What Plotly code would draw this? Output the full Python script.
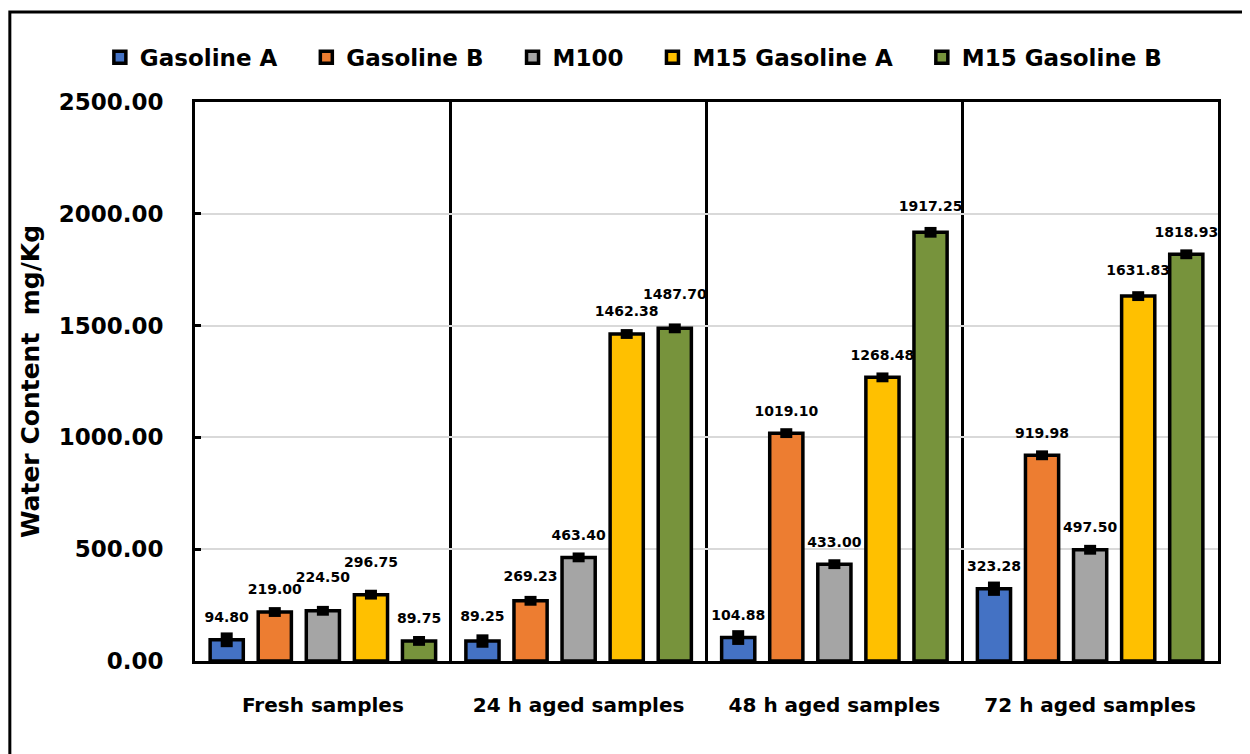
import plotly.graph_objects as go

categories = ["Fresh samples", "24 h aged samples", "48 h aged samples", "72 h aged samples"]
series_names = ["Gasoline A", "Gasoline B", "M100", "M15 Gasoline A", "M15 Gasoline B"]
gasoline_a = [94.80, 89.25, 104.88, 323.28]
gasoline_b = [219.00, 269.23, 1019.10, 919.98]
m100 = [224.50, 463.40, 433.00, 497.50]
m15_a = [296.75, 1462.38, 1268.48, 1631.83]
m15_b = [89.75, 1487.70, 1917.25, 1818.93]
err_a = [33, 30, 33, 32]
err_b = [22, 22, 22, 22]
err_m100 = [22, 22, 22, 22]
err_m15a = [22, 22, 22, 22]
err_m15b = [22, 22, 24, 22]
# extra lift (px) of individual data labels, as placed in the original chart
lift_a = [0, 2, 0, 0]
lift_b = [0, 2, 0, 0]
lift_m100 = [9, 0, 0, 0]
lift_m15a = [8, 0, 0, 3]
lift_m15b = [0, 9, 3, 0]
y_ticks = [0, 500, 1000, 1500, 2000, 2500]

values = [gasoline_a, gasoline_b, m100, m15_a, m15_b]
errors = [err_a, err_b, err_m100, err_m15a, err_m15b]
lifts = [lift_a, lift_b, lift_m100, lift_m15a, lift_m15b]
colors = ["#4472C4", "#ED7D31", "#A5A5A5", "#FFC000", "#77933C"]

FONT = "DejaVu Sans"
BASE_GAP = 21
PAD = "\u00a0\u00a0\u00a0"

fig = go.Figure()
for name, vals, errs, col in zip(series_names, values, errors, colors):
    fig.add_trace(go.Bar(
        name=name + PAD, x=categories, y=vals,
        marker=dict(color=col, line=dict(color="black", width=3.5)),
        error_y=dict(type="data", array=errs, visible=True, color="black",
                     thickness=12, width=0),
    ))
for name, vals, lf in zip(series_names, values, lifts):
    fig.add_trace(go.Scatter(
        x=categories, y=vals,
        mode="markers+text", text=[f"{v:.2f}" for v in vals],
        textposition="top center",
        marker=dict(size=[BASE_GAP + 2 * l for l in lf], color="rgba(0,0,0,0)",
                    opacity=0, line=dict(width=0)),
        textfont=dict(family=FONT, size=14, color="black", weight="bold"),
        showlegend=False, hoverinfo="skip",
    ))

fig.update_layout(
    width=1250, height=754,
    margin=dict(l=187, r=40, t=94, b=101),
    paper_bgcolor="white", plot_bgcolor="white",
    barmode="group", bargap=0.06, bargroupgap=0.31,
    scattermode="group", scattergap=0.06,
    font=dict(family=FONT, color="black"),
    legend=dict(orientation="h", x=-0.093, xanchor="left",
                y=1.08, yanchor="middle",
                font=dict(family=FONT, size=23, weight="bold"),
                itemwidth=30, tracegroupgap=0, traceorder="normal"),
    xaxis=dict(
        showline=True, linecolor="black", linewidth=3, mirror=True,
        showgrid=True, gridcolor="black", gridwidth=3, tickson="boundaries",
        ticks="", ticklabelstandoff=24,
        tickfont=dict(family=FONT, size=20, weight="bold"),
    ),
    yaxis=dict(
        range=[0, 2500], tickvals=y_ticks, tickformat=".2f",
        showline=True, linecolor="black", linewidth=3, mirror=True,
        showgrid=True, gridcolor="#D9D9D9", gridwidth=2,
        ticks="inside", ticklen=6, tickwidth=3, tickcolor="black",
        ticklabelstandoff=24,
        tickfont=dict(family=FONT, size=23, weight="bold"),
        title=dict(text="Water Content  mg/Kg", standoff=12,
                   font=dict(family=FONT, size=25, weight="bold")),
        zeroline=False,
    ),
    shapes=[dict(type="rect", xref="paper", yref="paper",
                 x0=-0.181, x1=1.06, y0=-0.2, y1=1.161,
                 line=dict(color="black", width=3), fillcolor="rgba(0,0,0,0)")],
)

fig.write_html("out.html")
